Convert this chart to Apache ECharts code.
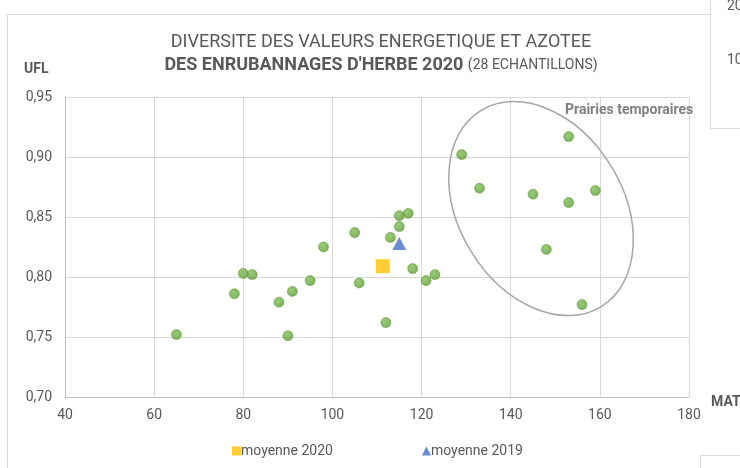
<!DOCTYPE html>
<html>
<head>
<meta charset="utf-8">
<script src="https://cdn.jsdelivr.net/npm/echarts@6/dist/echarts.min.js"></script>
<style>
  html, body { margin: 0; padding: 0; background: #fff; }
  #chart { width: 740px; height: 468px; }
</style>
</head>
<body>
<div id="chart"></div>
<script>
// MAT (x) / UFL (y) des echantillons
const matValues = [65, 78, 80, 82, 88, 90, 91, 95, 98, 105, 106, 112, 113, 115, 115, 117, 118, 121, 123,
  129, 133, 145, 153, 153, 159, 148, 156]
const uflValues = [0.752, 0.786, 0.803, 0.802, 0.779, 0.751, 0.788, 0.797, 0.825, 0.837, 0.795, 0.762, 0.833, 0.842, 0.851, 0.853, 0.807, 0.797, 0.802,
  0.902, 0.874, 0.869, 0.917, 0.862, 0.872, 0.823, 0.777]
const moyenne2020 = [111.3, 0.809]
const moyenne2019 = [115, 0.828]
const xTicks = [40, 60, 80, 100, 120, 140, 160, 180]
const yTicks = [0.70, 0.75, 0.80, 0.85, 0.90, 0.95]
// zone "Prairies temporaires" (centre en unites du graphique)
const ellipseCenter = [146.8, 0.857]

const labelColor = '#595959'
const font = "'Liberation Sans Narrow', 'Roboto', sans-serif"

const chart = echarts.init(document.getElementById('chart'))

const points = matValues.map((x, i) => [x, uflValues[i]])

chart.setOption({
  animation: false,
  title: {
    text: 'DIVERSITE DES VALEURS ENERGETIQUE ET AZOTEE\n{b|DES ENRUBANNAGES D\'HERBE 2020} {s|(28 ECHANTILLONS)}',
    left: 376,
    textAlign: 'center',
    top: 26,
    textStyle: {
      fontFamily: font,
      fontSize: 18,
      fontWeight: 'normal',
      color: labelColor,
      lineHeight: 23,
      rich: {
        b: { fontFamily: font, fontSize: 18, fontWeight: 'bold', color: labelColor, lineHeight: 23 },
        s: { fontFamily: font, fontSize: 14, color: labelColor, lineHeight: 23 }
      }
    }
  },
  grid: {
    left: 65,
    right: 51,
    top: 97,
    bottom: 71
  },
  legend: {
    data: ['moyenne 2020', 'moyenne 2019'],
    left: 227,
    top: 439,
    itemWidth: 9,
    itemHeight: 9,
    itemGap: 89,
    textStyle: { fontFamily: font, fontSize: 14, color: labelColor, padding: [0, 0, 0, -5] }
  },
  xAxis: {
    type: 'value',
    min: xTicks[0],
    max: xTicks[xTicks.length - 1],
    interval: 20,
    axisLine: { show: true, lineStyle: { color: '#bfbfbf', width: 1 } },
    axisTick: { show: false },
    axisLabel: { color: labelColor, fontFamily: font, fontSize: 14, margin: 11 },
    splitLine: { show: true, lineStyle: { color: '#d9d9d9', width: 1 } }
  },
  yAxis: {
    type: 'value',
    min: yTicks[0],
    max: yTicks[yTicks.length - 1],
    interval: 0.05,
    axisLine: { show: true, lineStyle: { color: '#bfbfbf', width: 1 } },
    axisTick: { show: false },
    axisLabel: {
      color: labelColor,
      fontFamily: font,
      fontSize: 14,
      margin: 13,
      formatter: v => v.toFixed(2).replace('.', ',')
    },
    splitLine: { show: true, lineStyle: { color: '#d9d9d9', width: 1 } }
  },
  series: [
    {
      name: 'echantillons',
      type: 'scatter',
      symbol: 'circle',
      symbolSize: 10,
      itemStyle: {
        color: new echarts.graphic.RadialGradient(0.4, 0.35, 0.7, [
          { offset: 0, color: '#7fbf52' },
          { offset: 1, color: '#5a9a30' }
        ]),
        borderColor: '#568f32',
        borderWidth: 0.6
      },
      data: points
    },
    {
      name: 'moyenne 2020',
      type: 'scatter',
      symbol: 'rect',
      symbolSize: 14,
      itemStyle: { color: '#ffc000' },
      data: [moyenne2020]
    },
    {
      name: 'moyenne 2019',
      type: 'scatter',
      symbol: 'triangle',
      symbolSize: [14, 13],
      itemStyle: { color: '#4472c4' },
      data: [moyenne2019]
    }
  ]
})

const c = chart.convertToPixel({ gridIndex: 0 }, ellipseCenter)

chart.setOption({
  graphic: [
    // cadre du graphique
    {
      type: 'rect',
      z: -10,
      shape: { x: 7.5, y: 14.5, width: 800, height: 600 },
      style: { fill: '#fff', stroke: '#d9d9d9', lineWidth: 1 }
    },
    {
      type: 'ellipse',
      x: c[0],
      y: c[1],
      rotation: -58.4 * Math.PI / 180,
      shape: { cx: 0, cy: 0, rx: 115, ry: 82 },
      style: { fill: null, stroke: '#a6a6a6', lineWidth: 1.5 }
    },
    {
      type: 'text',
      x: 565,
      y: 110,
      style: {
        text: 'Prairies temporaires',
        font: "bold 14px 'Liberation Sans Narrow', Roboto, sans-serif",
        fill: '#808080',
        verticalAlign: 'middle'
      }
    },
    {
      type: 'text',
      x: 24,
      y: 69,
      style: {
        text: 'UFL',
        font: "bold 14px 'Liberation Sans Narrow', Roboto, sans-serif",
        fill: labelColor,
        verticalAlign: 'middle'
      }
    },
    {
      type: 'text',
      x: 711,
      y: 402,
      style: {
        text: 'MAT',
        font: "bold 14px 'Liberation Sans Narrow', Roboto, sans-serif",
        fill: labelColor,
        verticalAlign: 'middle'
      }
    },
    // graphiques voisins (bords visibles)
    {
      type: 'rect',
      z: 100,
      shape: { x: 710.5, y: -5, width: 60, height: 133.5 },
      style: { fill: '#fff', stroke: '#d9d9d9', lineWidth: 1 }
    },
    {
      type: 'text',
      z: 101,
      x: 727,
      y: 6,
      style: { text: '200', font: "14px 'Liberation Sans Narrow', Roboto, sans-serif", fill: labelColor, verticalAlign: 'middle' }
    },
    {
      type: 'text',
      z: 101,
      x: 727,
      y: 60,
      style: { text: '100', font: "14px 'Liberation Sans Narrow', Roboto, sans-serif", fill: labelColor, verticalAlign: 'middle' }
    },
    {
      type: 'rect',
      z: 100,
      shape: { x: 700.5, y: 455.5, width: 60, height: 40 },
      style: { fill: '#fff', stroke: '#d9d9d9', lineWidth: 1 }
    }
  ]
})
</script>
</body>
</html>
